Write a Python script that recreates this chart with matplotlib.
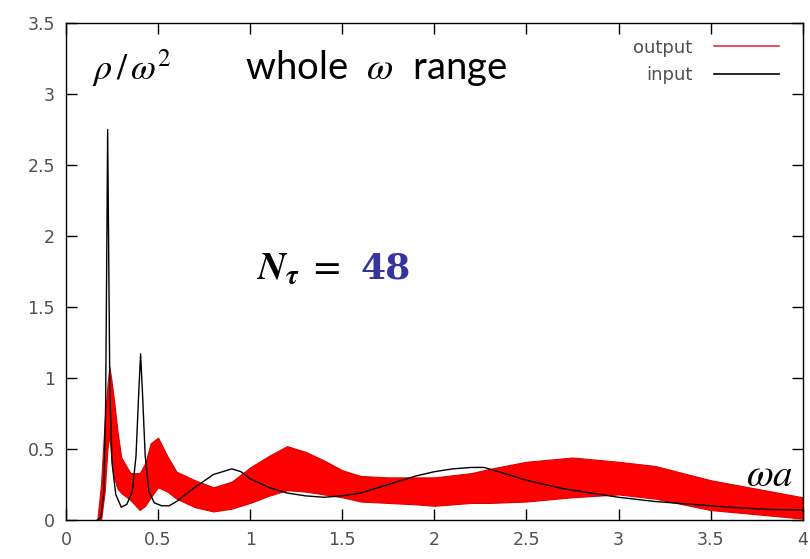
import numpy as np
import matplotlib.pyplot as plt
from matplotlib.lines import Line2D

# input spectrum (black)
x_in = [0.17, 0.19, 0.205, 0.215, 0.222, 0.226, 0.231, 0.238, 0.25, 0.27, 0.30, 0.33,
        0.36, 0.38, 0.395, 0.405, 0.415, 0.43, 0.45, 0.48, 0.52, 0.56, 0.60, 0.70,
        0.80, 0.90, 0.95, 1.00, 1.10, 1.20, 1.30, 1.40, 1.50, 1.60, 1.70, 1.80,
        1.90, 2.00, 2.10, 2.20, 2.27, 2.40, 2.50, 2.60, 2.70, 2.80, 2.90, 3.00,
        3.20, 3.40, 3.60, 3.80, 4.00]
y_in = [0.0, 0.02, 0.2, 0.8, 2.0, 2.75, 2.0, 0.9, 0.4, 0.18, 0.09, 0.11,
        0.2, 0.45, 0.9, 1.17, 0.9, 0.45, 0.2, 0.12, 0.1, 0.1, 0.13, 0.23,
        0.32, 0.36, 0.34, 0.29, 0.23, 0.19, 0.17, 0.16, 0.17, 0.19, 0.23, 0.27,
        0.31, 0.34, 0.36, 0.37, 0.37, 0.32, 0.28, 0.25, 0.22, 0.2, 0.18, 0.16,
        0.13, 0.11, 0.09, 0.075, 0.07]

# output spectrum (red): lower / upper envelope of the noisy band
x_out = [0.17, 0.19, 0.21, 0.225, 0.235, 0.245, 0.26, 0.28, 0.30, 0.35, 0.40, 0.43,
         0.46, 0.50, 0.55, 0.60, 0.70, 0.80, 0.90, 1.00, 1.10, 1.20, 1.30, 1.40,
         1.50, 1.60, 1.75, 1.90, 2.00, 2.20, 2.30, 2.50, 2.75, 3.00, 3.20, 3.50,
         3.75, 4.00]
lo_out = [0.0, 0.0, 0.2, 0.5, 0.6, 0.45, 0.3, 0.22, 0.19, 0.14, 0.07, 0.1,
          0.16, 0.23, 0.2, 0.15, 0.09, 0.06, 0.08, 0.12, 0.17, 0.21, 0.2, 0.18,
          0.16, 0.13, 0.12, 0.11, 0.1, 0.12, 0.12, 0.13, 0.16, 0.18, 0.15, 0.07,
          0.04, 0.01]
hi_out = [0.0, 0.25, 0.7, 0.95, 1.08, 1.0, 0.85, 0.62, 0.44, 0.33, 0.33, 0.4,
          0.54, 0.58, 0.45, 0.34, 0.28, 0.23, 0.27, 0.37, 0.45, 0.52, 0.48, 0.42,
          0.35, 0.31, 0.3, 0.3, 0.3, 0.33, 0.36, 0.41, 0.44, 0.41, 0.38, 0.28,
          0.22, 0.16]

plt.rcParams["mathtext.fontset"] = "stix"

fig = plt.figure(figsize=(8.1, 5.59), dpi=100)
ax = fig.add_axes([0.0815, 0.0698, 0.9095, 0.889])

ax.fill_between(x_out, lo_out, hi_out, color="#ff0000", lw=0.8, edgecolor="#e00000",
                zorder=2)
ax.plot(x_in, y_in, color="black", lw=1.0, zorder=3)

ax.set_xlim(0, 4)
ax.set_ylim(0, 3.5)
ax.set_xticks(np.arange(0, 4.01, 0.5))
ax.set_xticklabels(["0", "0.5", "1", "1.5", "2", "2.5", "3", "3.5", "4"])
ax.set_yticks(np.arange(0, 3.51, 0.5))
ax.set_yticklabels(["0", "0.5", "1", "1.5", "2", "2.5", "3", "3.5"])
ax.tick_params(direction="in", length=8, width=1, top=True, right=True,
               labelsize=12.5, labelcolor="#505050", pad=8)
for s in ax.spines.values():
    s.set_linewidth(1.0)

# legend with text first, gnuplot style
handles = [Line2D([], [], color="#e03048", lw=1.2), Line2D([], [], color="black", lw=1.2)]
leg = ax.legend(handles, ["output", "input"], loc="upper right", frameon=False,
                bbox_to_anchor=(1.0, 1.016), markerfirst=False, handlelength=3.6,
                fontsize=13, borderaxespad=1.3, borderpad=0.0, labelspacing=0.55,
                handletextpad=1.2)
for t in leg.get_texts():
    t.set_color("#505050")

ax.text(0.14, 3.18, r"$\rho\,/\,\omega^2$", fontsize=26, va="center", ha="left")
ax.text(0.97, 3.18, r"whole  $\omega$  range", fontsize=27.5, va="center", ha="left",
        family="Lato")
ax.text(1.03, 1.77, r"$\mathbfit{N}_{\mathbfit{\tau}}\ =$", fontsize=28, va="center",
        ha="left")
ax.text(1.60, 1.77, "48", fontsize=26, va="center", ha="left", color="#3535a0",
        family="DejaVu Serif", fontweight="bold")
ax.text(3.69, 0.32, r"$\omega a$", fontsize=28, va="center", ha="left")

fig.savefig("out.png", dpi=100)
